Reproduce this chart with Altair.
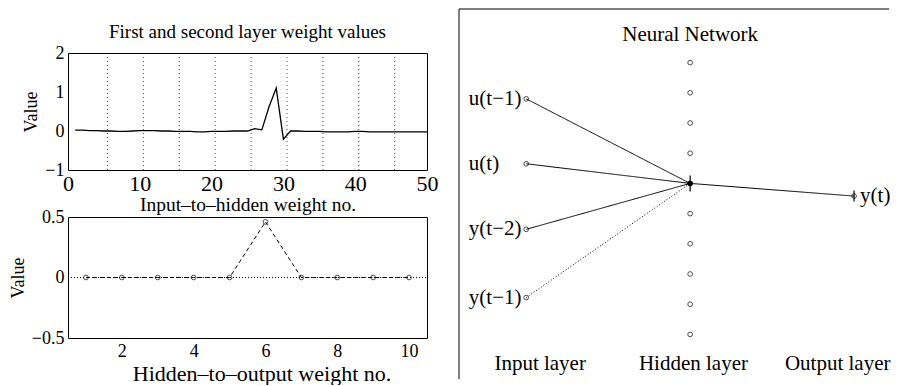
import altair as alt
import pandas as pd

FONT = "Liberation Serif"

# ---- top-left: first layer (input-to-hidden) weights ----
w1_index = list(range(1, 51))
w1_value = [0.02, 0.02, 0.01, 0.01, 0.0, 0.0, -0.01, -0.01, 0.0, 0.01,
            0.01, 0.01, 0.0, 0.0, -0.01, -0.01, -0.01, -0.02, -0.02, -0.01,
            -0.01, -0.01, 0.0, 0.0, 0.0, 0.06, 0.03, 0.62, 1.1, -0.21,
            0.0, 0.0, -0.01, -0.01, -0.01, -0.02, -0.02, -0.02, -0.02, -0.01,
            -0.01, -0.02, -0.02, -0.02, -0.02, -0.02, -0.02, -0.02, -0.02, -0.02]
separators = [5.5, 10.5, 15.5, 20.5, 25.5, 30.5, 35.5, 40.5, 45.5]
w1_xticks = [0, 10, 20, 30, 40, 50]
w1_yticks = [-1, 0, 1, 2]
top_title = "First and second layer weight values"

# ---- bottom-left: second layer (hidden-to-output) weights ----
w2_index = [1, 2, 3, 4, 5, 6, 7, 8, 9, 10]
w2_value = [0, 0, 0, 0, 0, 0.46, 0, 0, 0, 0]
w2_xticks = [2, 4, 6, 8, 10]
w2_yticks = [-0.5, 0, 0.5]

# ---- right: network diagram ----
input_names = ["u(t\u22121)", "u(t)", "y(t\u22122)", "y(t\u22121)"]
input_y = [3.3, 1.15, -1.02, -3.28]
hidden_y = [4.5, 3.5, 2.5, 1.5, 0.5, -0.5, -1.5, -2.5, -3.5, -4.5]
active_hidden_y = 0.5
output_y = 0.08
edge_style = ["solid", "solid", "solid", "dotted"]
layer_names = ["Input layer", "Hidden layer", "Output layer"]
layer_x = [0.085, 1.02, 1.9]

W1, H1 = 359, 117
W2, H2 = 359, 121
TOP_EXT = 44  # distance from plot top to right frame top

axis_common = dict(labelFont=FONT, labelColor="black",
                   titleFont=FONT, titleFontWeight="normal",
                   titleColor="black", grid=False, ticks=False, domain=False,
                   labelFlush=False)

one = alt.Data(values=[{"a": 1}])

# top-left chart
df1 = pd.DataFrame({"idx": w1_index, "val": w1_value})
dsep = pd.DataFrame({"pos": separators})
x1 = alt.Scale(domain=[0, 50], nice=False, zero=False)
y1 = alt.Scale(domain=[-1, 2], nice=False, zero=False)
sep = alt.Chart(dsep).mark_rule(color="black", strokeWidth=1, strokeDash=[1, 3], opacity=0.7).encode(
    x=alt.X("pos:Q", scale=x1))
line1 = alt.Chart(df1).mark_line(color="black", strokeWidth=1.3).encode(
    x=alt.X("idx:Q", scale=x1, axis=alt.Axis(
        values=w1_xticks, title="Input\u2013to\u2013hidden weight no.",
        labelFontSize=22, titleFontSize=19.5, labelPadding=3, titlePadding=1,
        **axis_common)),
    y=alt.Y("val:Q", scale=y1, axis=alt.Axis(values=w1_yticks, title="Value",
                                            labelFontSize=18, titleFontSize=18,
                                            labelPadding=4, titlePadding=4, **axis_common)))
spacer = alt.Chart(one).mark_rule(color="white", strokeOpacity=0).encode(
    x=alt.value(0), y=alt.value(-TOP_EXT), y2=alt.value(-TOP_EXT + 2))
title1 = alt.Chart(pd.DataFrame({"t": [top_title]})).mark_text(
    font=FONT, fontSize=19, align="center", baseline="alphabetic", color="black").encode(
    x=alt.value(W1 / 2), y=alt.value(-15), text="t:N")
top = alt.layer(spacer, sep, line1, title1).properties(width=W1, height=H1)

# bottom-left chart
df2 = pd.DataFrame({"idx": w2_index, "val": w2_value})
x2 = alt.Scale(domain=[0.5, 10.5], nice=False, zero=False)
y2 = alt.Scale(domain=[-0.5, 0.5], nice=False, zero=False)
zero = alt.Chart(pd.DataFrame({"z": [0]})).mark_rule(color="black", strokeWidth=1, strokeDash=[1, 2]).encode(
    y=alt.Y("z:Q", scale=y2), x=alt.value(0), x2=alt.value(W2))
line2 = alt.Chart(df2).mark_line(color="black", strokeWidth=1, strokeDash=[4, 3]).encode(
    x=alt.X("idx:Q", scale=x2, axis=alt.Axis(values=w2_xticks, title="Hidden\u2013to\u2013output weight no.",
                                            labelFontSize=18, titleFontSize=22, titleX=W2 / 2 + 14,
                                            labelPadding=4, titlePadding=3, **axis_common)),
    y=alt.Y("val:Q", scale=y2, axis=alt.Axis(values=w2_yticks, title="Value",
                                            labelExpr="datum.value == 0 ? '0' : datum.label",
                                            labelFontSize=18, titleFontSize=18,
                                            labelPadding=4, titlePadding=4, **axis_common)))
pts2 = alt.Chart(df2).mark_point(shape="circle", size=22, filled=False, color="black", strokeWidth=1).encode(
    x=alt.X("idx:Q", scale=x2), y=alt.Y("val:Q", scale=y2))
bottom = alt.layer(zero, line2, pts2).properties(width=W2, height=H2)

left = alt.vconcat(top, bottom, spacing=47, bounds="flush")

# right chart: network
RW, RH = 430, 326
xs = alt.Scale(domain=[-0.41, 2.213], nice=False, zero=False)
ys = alt.Scale(domain=[-5.977, 4.818], nice=False, zero=False)
XE = dict(scale=xs, axis=None)
YE = dict(scale=ys, axis=None)

frame_l = alt.Chart(one).mark_rule(color="black", strokeWidth=1).encode(
    x=alt.value(0), y=alt.value(-TOP_EXT), y2=alt.value(RH))
frame_t = alt.Chart(one).mark_rule(color="black", strokeWidth=1).encode(
    x=alt.value(0), x2=alt.value(RW), y=alt.value(-TOP_EXT))

edges = pd.DataFrame({
    "x": [0, 0, 0, 0, 1],
    "y": input_y + [active_hidden_y],
    "x2": [1, 1, 1, 1, 2],
    "y2": [active_hidden_y] * 4 + [output_y],
    "style": edge_style + ["solid"],
})
edge_layer = alt.Chart(edges).mark_rule(color="black", strokeWidth=1).encode(
    x=alt.X("x:Q", **XE), y=alt.Y("y:Q", **YE),
    x2="x2:Q", y2="y2:Q",
    strokeDash=alt.StrokeDash("style:N", scale=alt.Scale(domain=["solid", "dotted"], range=[[1, 0], [1, 2]]),
                              legend=None))

nodes = pd.DataFrame({
    "x": [0] * 4 + [1] * 10 + [2],
    "y": input_y + hidden_y + [output_y],
})
node_layer = alt.Chart(nodes).mark_point(shape="circle", size=22, filled=False, color="black",
                                         strokeWidth=1).encode(
    x=alt.X("x:Q", **XE), y=alt.Y("y:Q", **YE))

active = pd.DataFrame({"x": [1], "y": [active_hidden_y]})
active_dot = alt.Chart(active).mark_point(shape="circle", size=30, filled=True, color="black",
                                          opacity=1).encode(
    x=alt.X("x:Q", **XE), y=alt.Y("y:Q", **YE))
ticks = pd.DataFrame({"x": [1, 2], "y": [active_hidden_y, output_y], "s": [256, 121]})
tick_layer = alt.Chart(ticks).mark_point(shape="M0,-1L0,1", filled=False, color="black",
                                         strokeWidth=1.2, opacity=1).encode(
    x=alt.X("x:Q", **XE), y=alt.Y("y:Q", **YE),
    size=alt.Size("s:Q", scale=None, legend=None))

in_labels = pd.DataFrame({"x": [-0.35] * 4, "y": input_y, "t": input_names})
in_text = alt.Chart(in_labels).mark_text(font=FONT, fontSize=21, align="left", baseline="middle",
                                         color="black").encode(
    x=alt.X("x:Q", **XE), y=alt.Y("y:Q", **YE), text="t:N")
out_labels = pd.DataFrame({"x": [2], "y": [output_y], "t": ["y(t)"]})
out_text = alt.Chart(out_labels).mark_text(font=FONT, fontSize=21, align="left", baseline="middle",
                                           dx=6, color="black").encode(
    x=alt.X("x:Q", **XE), y=alt.Y("y:Q", **YE), text="t:N")
lay_labels = pd.DataFrame({"x": layer_x, "y": [-5.48] * 3, "t": layer_names})
lay_text = alt.Chart(lay_labels).mark_text(font=FONT, fontSize=21, align="center", baseline="middle",
                                           color="black").encode(
    x=alt.X("x:Q", **XE), y=alt.Y("y:Q", **YE), text="t:N")
ttl = pd.DataFrame({"x": [1], "y": [5.414], "t": ["Neural Network"]})
ttl_text = alt.Chart(ttl).mark_text(font=FONT, fontSize=21, align="center", baseline="middle",
                                    color="black").encode(
    x=alt.X("x:Q", **XE), y=alt.Y("y:Q", **YE), text="t:N")

right = alt.layer(frame_l, frame_t, edge_layer, node_layer, active_dot, tick_layer,
                  in_text, out_text, lay_text, ttl_text).properties(
    width=RW, height=RH, view=alt.ViewBackground(stroke="transparent"))

chart = alt.hconcat(left, right, spacing=19).properties(
    padding=0,
    background="white",
).configure_view(stroke="black", strokeWidth=1)

chart.save("out.html", embed_options={"renderer": "svg", "actions": False})
